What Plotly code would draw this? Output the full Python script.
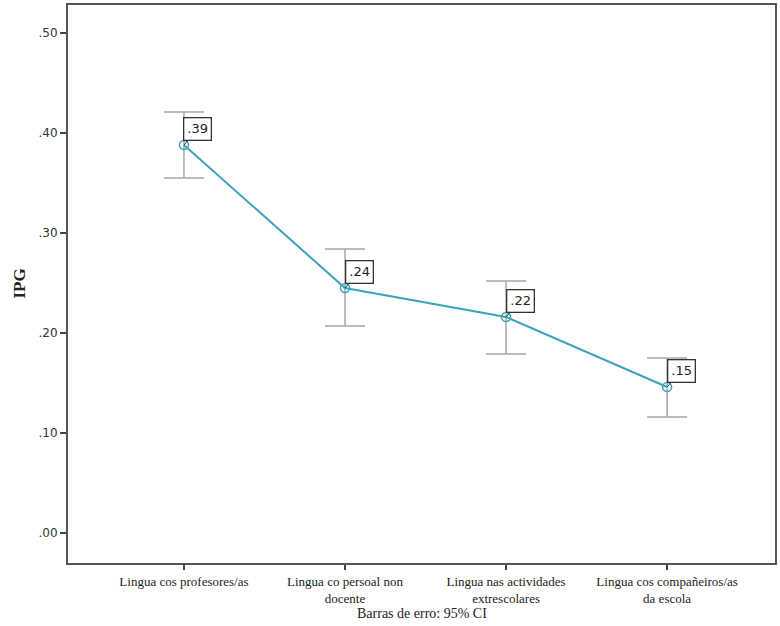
import plotly.graph_objects as go

categories = ["Lingua cos profesores/as", "Lingua co persoal non<br>docente",
              "Lingua nas actividades<br>extrescolares", "Lingua cos compañeiros/as<br>da escola"]
means = [0.388, 0.245, 0.216, 0.146]
ci_upper = [0.421, 0.284, 0.252, 0.175]
ci_lower = [0.355, 0.207, 0.179, 0.116]
point_labels = [".39", ".24", ".22", ".15"]
y_tickvals = [0.0, 0.1, 0.2, 0.3, 0.4, 0.5]
y_ticktext = [".00", ".10", ".20", ".30", ".40", ".50"]

xs = list(range(len(categories)))
err_plus = [u - m for u, m in zip(ci_upper, means)]
err_minus = [m - l for m, l in zip(means, ci_lower)]

fig = go.Figure()
fig.add_trace(go.Scatter(
    x=xs, y=means, mode="lines+markers",
    line=dict(color="#3BA3BA", width=2),
    marker=dict(symbol="circle-open", size=9, color="#3BA3BA", line=dict(width=1.5)),
    error_y=dict(type="data", symmetric=False, array=err_plus, arrayminus=err_minus,
                 color="#A8A8A8", thickness=1.5, width=20),
    showlegend=False,
))

for x, y, t in zip(xs, means, point_labels):
    fig.add_annotation(x=x, y=y, text=t, showarrow=True, arrowhead=0, arrowwidth=1,
                       arrowcolor="#333", ax=14, ay=-16,
                       bordercolor="#333", borderwidth=1.3, borderpad=3, bgcolor="white",
                       font=dict(family="DejaVu Sans", size=13, color="#222"))

fig.add_annotation(x=0.5, xref="paper", y=-0.091, yref="paper", yanchor="middle",
                   text="Barras de erro: 95% CI", showarrow=False,
                   font=dict(family="Liberation Serif", size=14, color="#222"))
fig.add_annotation(x=-0.07, xref="paper", y=0.5, yref="paper", textangle=-90,
                   xanchor="center", yanchor="middle",
                   text="<b>IPG</b>", showarrow=False,
                   font=dict(family="Liberation Serif", size=17, color="#222"))

fig.update_layout(
    width=780, height=626,
    margin=dict(l=68, r=5, t=5, b=63, autoexpand=False),
    paper_bgcolor="white", plot_bgcolor="white",
    yaxis=dict(range=[-0.03, 0.528], tickvals=y_tickvals, ticktext=y_ticktext,
               automargin=False,
               showgrid=False, zeroline=False, ticks="outside", ticklen=6,
               tickcolor="#444", tickwidth=1.5,
               showline=True, mirror=True, linecolor="#555", linewidth=2,
               tickfont=dict(family="DejaVu Sans", size=12, color="#333")),
    xaxis=dict(range=[-0.72, 3.67], tickvals=xs, ticktext=categories,
               automargin=False,
               showgrid=False, zeroline=False, ticks="outside", ticklen=5,
               tickcolor="#444", tickwidth=1.5,
               showline=True, mirror=True, linecolor="#555", linewidth=2,
               tickfont=dict(family="Liberation Serif", size=13, color="#222")),
)

fig.write_html("out.html", config={"displayModeBar": False},
               post_script="document.body.style.margin='0';document.body.style.overflow='hidden';")
